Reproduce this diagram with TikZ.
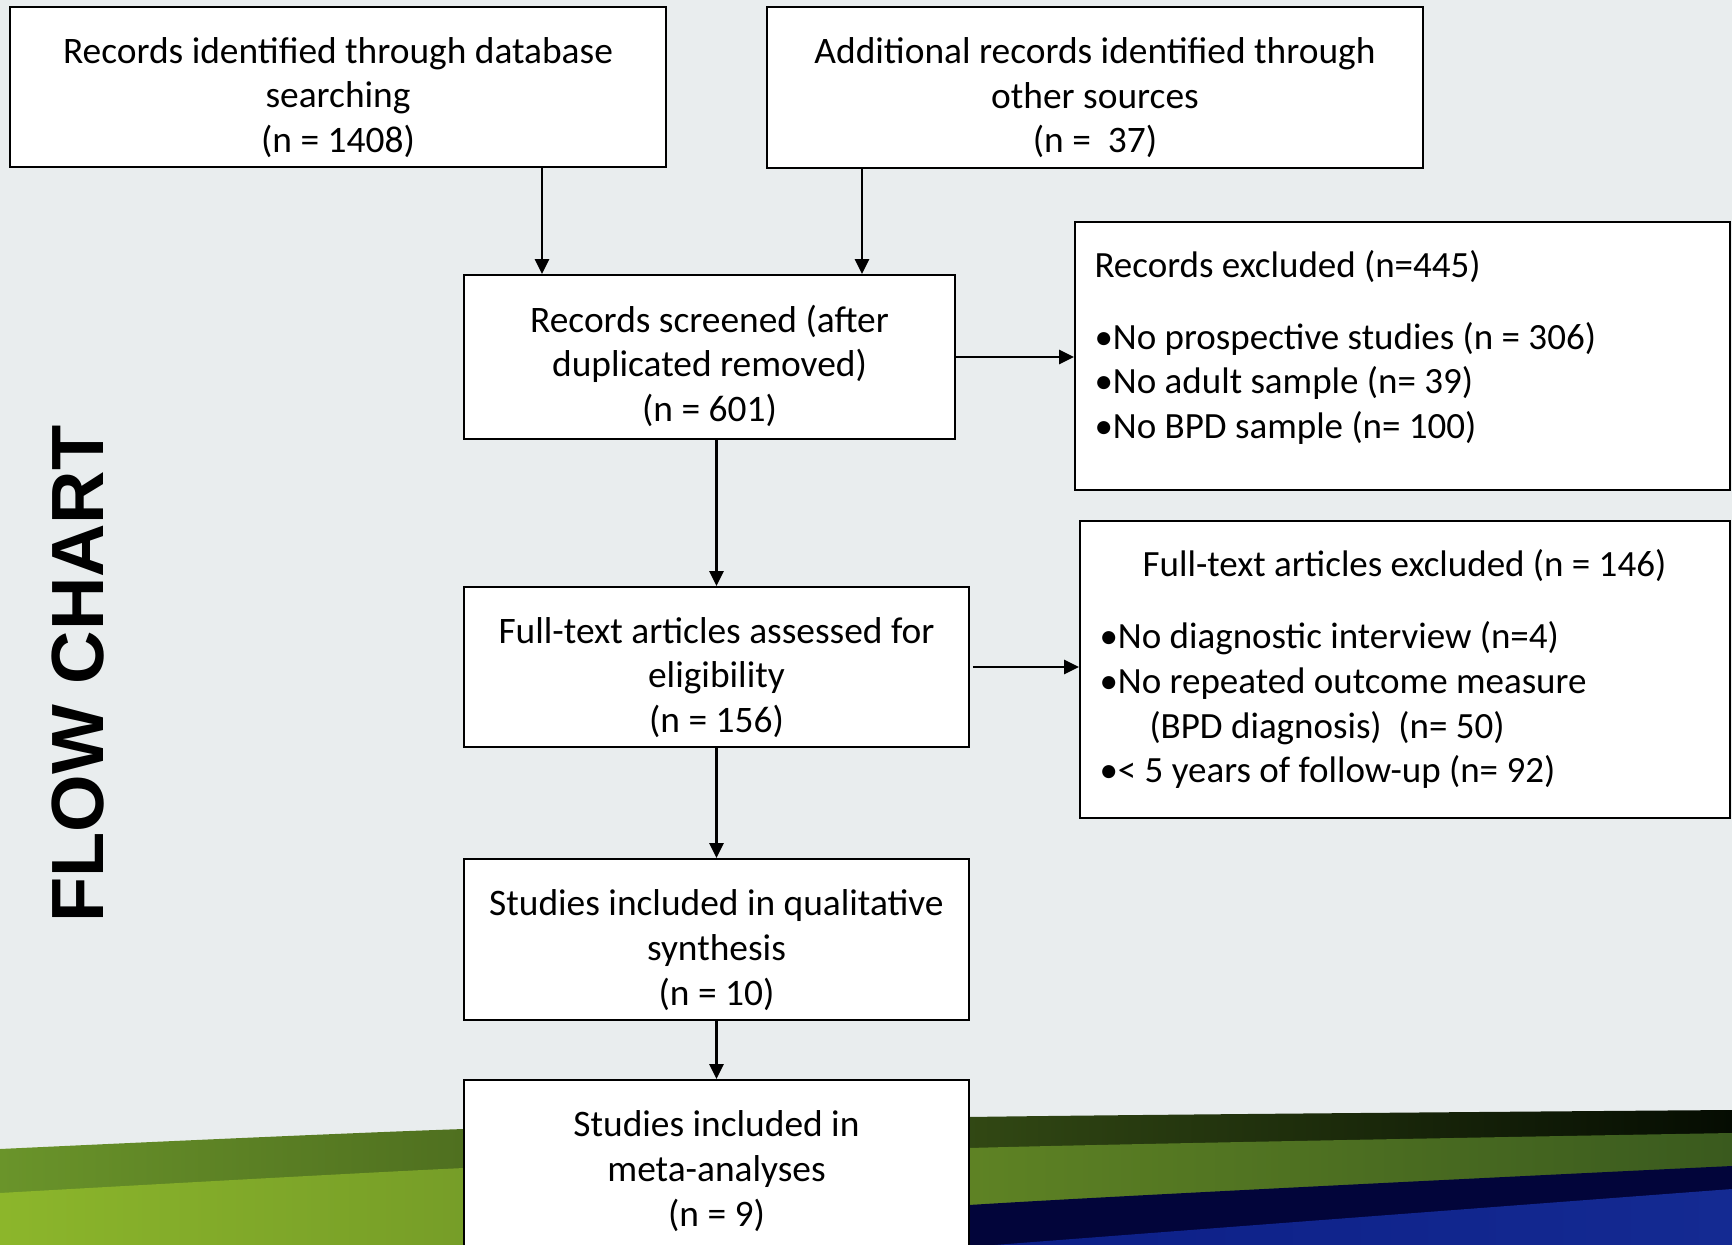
\documentclass[tikz,border=0pt]{standalone}
\usepackage{fontspec}
\setmainfont{Carlito}
\newfontfamily\headfont{Liberation Sans}
\usepackage{xcolor}
\usetikzlibrary{arrows.meta}
\definecolor{slidebg}{HTML}{E9EDEE}
\definecolor{bandAl}{HTML}{6A942A}
\definecolor{bandAm}{HTML}{22370F}
\definecolor{bandAr}{HTML}{050C02}
\definecolor{bandBl}{HTML}{8CB62B}
\definecolor{bandBm}{HTML}{58802A}
\definecolor{bandBr}{HTML}{3A5A1E}
\definecolor{bandC}{HTML}{02053A}
\definecolor{bandDl}{HTML}{0B1D85}
\definecolor{bandDr}{HTML}{142A92}
% first and last line struts, so the text sits as on the slide
\newcommand{\firstpad}[1]{\rule{0pt}{#1}}
\newcommand{\lastpad}{\rule[-5pt]{0pt}{5pt}}
\tikzset{
  flowbox/.style={draw=black, line width=0.9pt, fill=white, align=center, inner sep=0pt,
    font=\fontsize{18.7pt}{22.35pt}\selectfont},
  notetext/.style={align=flush left, inner sep=0pt, font=\fontsize{18.5pt}{22.35pt}\selectfont},
  flowarrow/.style={->, line width=1.3pt}
}
\begin{document}
\begin{tikzpicture}[line cap=butt,line join=miter,>={Triangle[length=7.5pt,width=7pt]},x=0.5pt,y=-0.5pt]
\useasboundingbox (0,0) rectangle (1732,1245);
\clip (0,0) rectangle (1732,1245);
% slide background and bands
\fill[slidebg] (0,0) rectangle (1732,1245);
\path[left color=bandAl, middle color=bandAm, right color=bandAr]
  plot[smooth] coordinates {(0,1149) (464,1129) (969,1117) (1732,1110)} -- (1732,1250) -- (0,1250) -- cycle;
\path[left color=bandBl, middle color=bandBm, right color=bandBr]
  plot[smooth] coordinates {(0,1193) (464,1168) (969,1148) (1732,1133)} -- (1732,1250) -- (0,1250) -- cycle;
\fill[bandC]
  plot[smooth] coordinates {(300,1262) (464,1246) (969,1205) (1732,1166)} -- (1732,1250) -- (300,1262) -- cycle;
\path[left color=bandDl, right color=bandDr]
  plot[smooth] coordinates {(900,1255) (969,1247) (1732,1189)} -- (1732,1260) -- (900,1260) -- cycle;
% side title
\node[rotate=90, inner sep=0pt, font=\headfont\bfseries\fontsize{37pt}{40pt}\selectfont] (sidetitle) at (78,674) {FLOW CHART};
% boxes
\node[flowbox, minimum width=328pt, minimum height=80pt] (dbbox) at (338,87)
  {\firstpad{25.8pt}Records identified through database\\searching\\(n = 1408)\lastpad};
\node[flowbox, minimum width=328pt, minimum height=80.5pt] (otherbox) at (1095,87.5)
  {\firstpad{25.8pt}Additional records identified through\\other sources\\(n = \ 37)\lastpad};
\node[flowbox, minimum width=245.5pt, minimum height=82pt] (screenbox) at (709.5,357)
  {\firstpad{25pt}Records screened (after\\duplicated removed)\\(n = 601)\lastpad};
\node[flowbox, minimum width=327.5pt, minimum height=134pt] (exclbox) at (1402.5,356) {};
\node[notetext, text width=305pt, anchor=base west] (excltext) at ([shift={(20,56)}]exclbox.north west)
  {Records excluded (n=445)\\[13.65pt]
   •No prospective studies (n = 306)\\
   •No adult sample (n= 39)\\
   •No BPD sample (n= 100)};
\node[flowbox, minimum width=252.5pt, minimum height=80pt] (fullbox) at (716.5,667)
  {\firstpad{25.8pt}Full-text articles assessed for\\eligibility\\(n = 156)\lastpad};
\node[flowbox, minimum width=325pt, minimum height=148.5pt] (ftexbox) at (1405,669.5) {};
\node[notetext, text width=305pt, anchor=base west] (ftextext) at ([shift={(20,56.6)}]ftexbox.north west)
  {\hfill Full-text articles excluded (n = 146)\hfill\null\\[13.65pt]
   •No diagnostic interview (n=4)\\
   •No repeated outcome measure\\
   \hspace*{25pt}(BPD diagnosis) \ (n= 50)\\
   •< 5 years of follow-up (n= 92)};
\node[flowbox, minimum width=252.5pt, minimum height=80.5pt] (qualbox) at (716.5,939.5)
  {\firstpad{25.8pt}Studies included in qualitative\\synthesis\\(n = 10)\lastpad};
\node[flowbox, minimum width=252.5pt, minimum height=90pt] (metabox) at (716.5,1170)
  {\firstpad{16.6pt}Studies included in\\meta-analyses\\(n = 9)\lastpad};
% connectors
\coordinate (dbdrop) at (542,0);
\coordinate (otherdrop) at (862,0);
\draw[flowarrow] (dbbox.south -| dbdrop) -- (screenbox.north -| dbdrop);
\draw[flowarrow] (otherbox.south -| otherdrop) -- (screenbox.north -| otherdrop);
\draw[flowarrow] (screenbox.east) -- (screenbox.east -| exclbox.west);
\draw[flowarrow] (screenbox.south -| fullbox.north) -- (fullbox.north);
\draw[flowarrow] ([xshift=1.5pt]fullbox.east) -- (fullbox.east -| ftexbox.west);
\draw[flowarrow] (fullbox) -- (qualbox);
\draw[flowarrow] (qualbox) -- (metabox);
\end{tikzpicture}
\end{document}
